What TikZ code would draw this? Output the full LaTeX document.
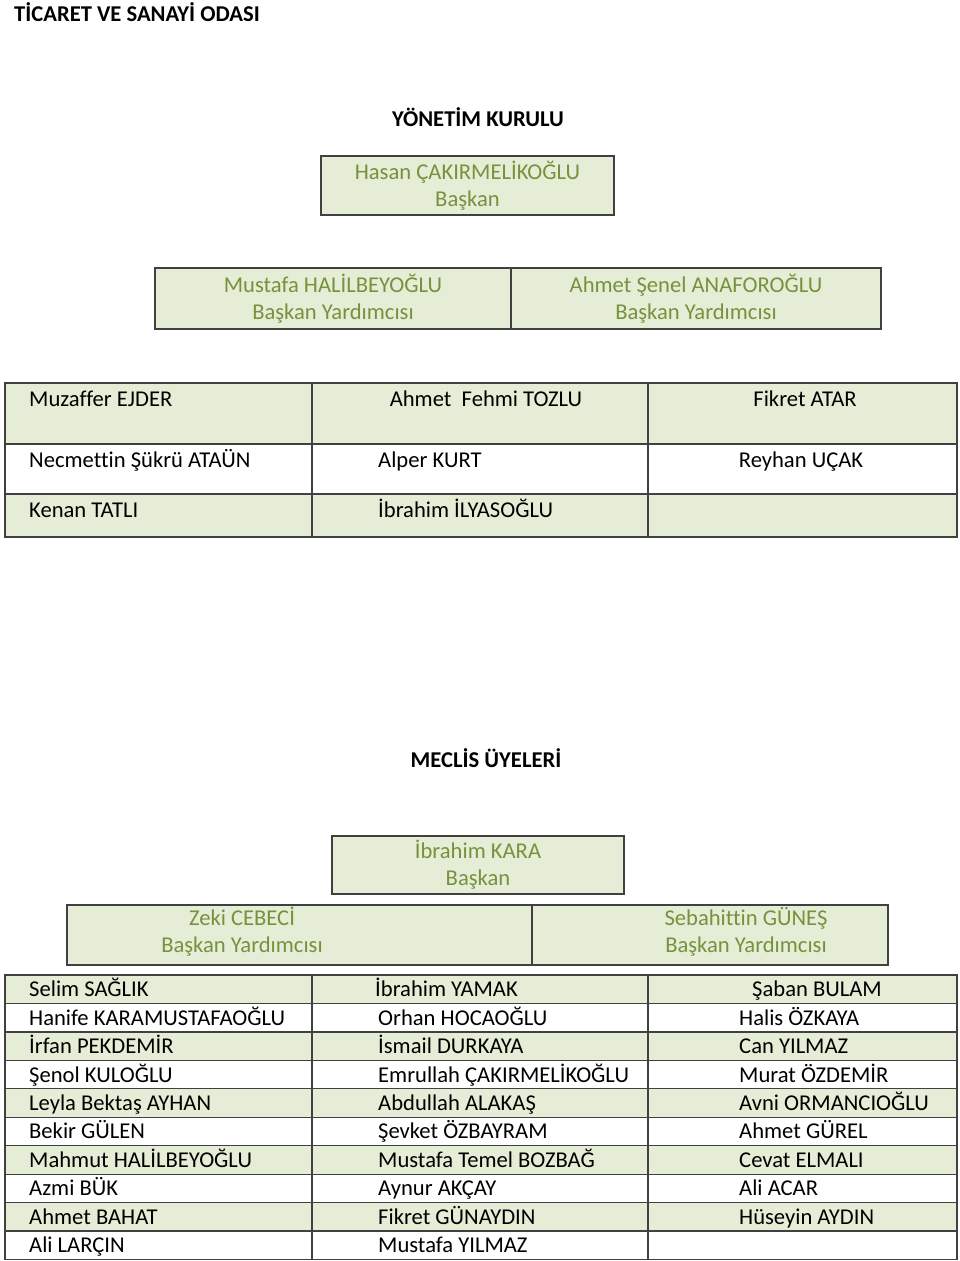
\documentclass[tikz,border=0pt]{standalone}
\usepackage{fontspec}
\setmainfont[Ligatures={NoCommon}]{Carlito}
\definecolor{cellgreen}{RGB}{230,237,214}
\definecolor{namegreen}{RGB}{118,146,60}
\definecolor{rulegray}{RGB}{64,64,64}

\begin{document}
\begin{tikzpicture}[x=1pt, y=-1pt,
    heading/.style = {font=\fontsize{22.6}{26}\selectfont\bfseries, inner sep=0pt, text height=17pt, text depth=2pt},
    main/.style = {draw=rulegray, line width=1.4pt, fill=cellgreen, text=namegreen, align=center, font=\fontsize{22.6}{27}\selectfont, inner sep=0pt},
    greentext/.style = {text=namegreen, align=center, font=\fontsize{22.6}{27}\selectfont, inner sep=0pt},
    member/.style = {anchor=west, font=\fontsize{22.6}{26}\selectfont, inner sep=0pt, text height=17pt, text depth=2pt},
    grid/.style = {draw=rulegray, line width=1.2pt}]
    \useasboundingbox (0,0) rectangle (960,1261);

    % headings
    \node[heading, anchor=west] (title) at (14,14) {TİCARET VE SANAYİ ODASI};
    \node[heading] (yk) at (478,118.5) {YÖNETİM KURULU};

    % yonetim kurulu
    \node[main, minimum width=293pt, minimum height=59pt] (ykbaskan) at (467.5,185.5) {Hasan ÇAKIRMELİKOĞLU\\Başkan};
    \node[main, minimum width=356pt, minimum height=61pt] (ykyard1) at (333,298.5) {Mustafa HALİLBEYOĞLU\\Başkan Yardımcısı};
    \node[main, minimum width=370pt, minimum height=61pt] (ykyard2) at (696,298.5) {Ahmet Şenel ANAFOROĞLU\\Başkan Yardımcısı};

    % uyeler tablosu
    \fill[cellgreen] (5,383) rectangle (957,444);
    \fill[cellgreen] (5,494) rectangle (957,537);
    \draw[grid] (5,383) rectangle (957,537);
    \draw[grid] (5,444) -- (957,444);
    \draw[grid] (5,494) -- (957,494);
    \draw[grid] (312,383) -- (312,537);
    \draw[grid] (648,383) -- (648,537);
    \node[member] (yk1) at (29,399) {Muzaffer EJDER};
    \node[member, anchor=center] (yk2) at (486,399) {Ahmet~ Fehmi TOZLU};
    \node[member, anchor=center] (yk3) at (805,399) {Fikret ATAR};
    \node[member] (yk4) at (29,460) {Necmettin Şükrü ATAÜN};
    \node[member] (yk5) at (378,460) {Alper KURT};
    \node[member, anchor=center] (yk6) at (801,460) {Reyhan UÇAK};
    \node[member] (yk7) at (29,509.5) {Kenan TATLI};
    \node[member] (yk8) at (378,509.5) {İbrahim İLYASOĞLU};

    % meclis
    \node[heading] (meclis) at (486,760) {MECLİS ÜYELERİ};
    \node[main, minimum width=292pt, minimum height=58pt] (mbaskan) at (478,865) {İbrahim KARA\\Başkan};
    \node[main, minimum width=465pt, minimum height=60pt] (mcell1) at (299.5,935) {};
    \node[main, minimum width=356pt, minimum height=60pt] (mcell2) at (710,935) {};
    \node[greentext] (myard1) at (242,932) {Zeki CEBECİ\\Başkan Yardımcısı};
    \node[greentext] (myard2) at (746,932) {Sebahittin GÜNEŞ\\Başkan Yardımcısı};

    % meclis uyeleri tablosu
    \foreach \r in {0,2,...,8}
        \fill[cellgreen] (5,{975+28.45*\r}) rectangle (957,{975+28.45*(\r+1)});
    \foreach \r in {1,...,9}
        \draw[grid] (5,{975+28.45*\r}) -- (957,{975+28.45*\r});
    \draw[grid] (5,975) rectangle (957,1259.5);
    \draw[grid] (312,975) -- (312,1259.5);
    \draw[grid] (648,975) -- (648,1259.5);
    \foreach \nm [count=\i] in {Selim SAĞLIK, Hanife KARAMUSTAFAOĞLU, İrfan PEKDEMİR, Şenol KULOĞLU, Leyla Bektaş AYHAN, Bekir GÜLEN, Mahmut HALİLBEYOĞLU, Azmi BÜK, Ahmet BAHAT, Ali LARÇIN}
        \node[member] (sol\i) at (29,{975+28.45*(\i-0.5)}) {\nm};
    \node[member] (orta1) at (375,989.2) {İbrahim YAMAK};
    \foreach \nm [count=\i from 2] in {Orhan HOCAOĞLU, İsmail DURKAYA, Emrullah ÇAKIRMELİKOĞLU, Abdullah ALAKAŞ, Şevket ÖZBAYRAM, Mustafa Temel BOZBAĞ, Aynur AKÇAY, Fikret GÜNAYDIN, Mustafa YILMAZ}
        \node[member] (orta\i) at (378,{975+28.45*(\i-0.5)}) {\nm};
    \node[member] (sag1) at (752,989.2) {Şaban BULAM};
    \foreach \nm [count=\i from 2] in {Halis ÖZKAYA, Can YILMAZ, Murat ÖZDEMİR, Avni ORMANCIOĞLU, Ahmet GÜREL, Cevat ELMALI, Ali ACAR, Hüseyin AYDIN}
        \node[member] (sag\i) at (739,{975+28.45*(\i-0.5)}) {\nm};
\end{tikzpicture}
\end{document}
